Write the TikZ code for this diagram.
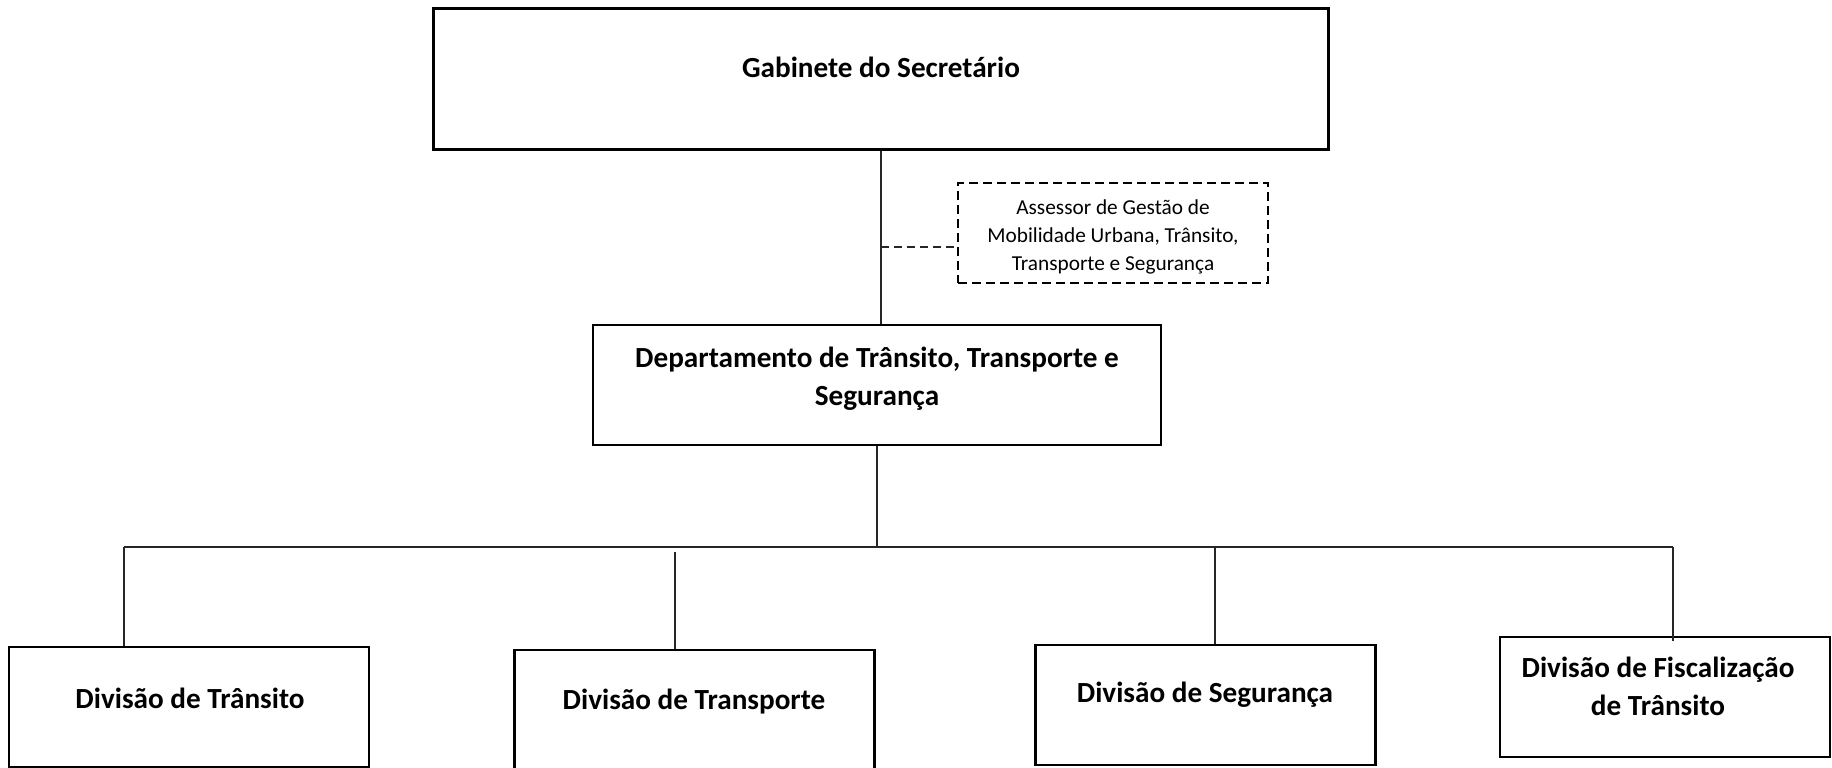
\documentclass[tikz,border=0pt]{standalone}
\usepackage{fontspec}
\setmainfont{Carlito}
\usepackage{tikz}
\usetikzlibrary{positioning,calc}

\begin{document}
\begin{tikzpicture}[x=1pt, y=-1pt,
  unitbox/.style={rectangle, draw=black, line width=2.4pt, inner sep=0pt},
  advbox/.style={rectangle, draw=black, line width=2.6pt, dash pattern=on 9pt off 5pt, inner sep=0pt},
  unitname/.style={font=\bfseries\fontsize{29.2}{38}\selectfont, align=center, inner sep=0pt},
  advname/.style={font=\fontsize{21.3}{28}\selectfont, align=center, inner sep=0pt},
  link/.style={draw=black!85, line width=1.3pt}]
\useasboundingbox (0,0) rectangle (1832,768);

% gabinete e assessoria
\node (gab) [unitbox, minimum width=895pt, minimum height=141pt] at (881,79) {};
\node (gabname) [unitname] at (881,67) {Gabinete do Secretário};

\node (ass) [advbox, minimum width=310pt, minimum height=100pt] at (1113,233) {};
\node (assname) [advname] at (1113,237) {Assessor de Gestão de\\Mobilidade Urbana, Trânsito,\\Transporte e Segurança};

% departamento
\node (dep) [unitbox, minimum width=568pt, minimum height=120pt] at (877,385) {};
\node (depname) [unitname] at (877,379) {Departamento de Trânsito, Transporte e\\Segurança};

% divisoes
\node (dtra) [unitbox, minimum width=360pt, minimum height=120pt] at (189,707) {};
\node (dtraname) [unitname] at (190,698) {Divisão de Trânsito};
\node (dtsp) [unitbox, minimum width=360pt, minimum height=120pt] at (694.5,710) {};
\node (dtspname) [unitname] at (694,702) {Divisão de Transporte};
\node (dseg) [unitbox, minimum width=340pt, minimum height=120pt] at (1205.5,705) {};
\node (dsegname) [unitname] at (1205,695) {Divisão de Segurança};
\node (dfis) [unitbox, minimum width=330pt, minimum height=120pt] at (1665,697) {};
\node (dfisname) [unitname] at (1658,686) {Divisão de Fiscalização\\de Trânsito};

% ligacoes
\coordinate (assin) at ([yshift=-14pt]ass.west);
\coordinate (busl) at (124,547);
\coordinate (busr) at (1673,547);
\coordinate (d2) at (675,552);
\coordinate (d3) at (1215,547);

\draw [link] (gab.south) -- (gab.south |- dep.north);
\draw [link, line width=2.2pt, dash pattern=on 8pt off 5pt] (gab.south |- assin) -- (assin);
\draw [link] (dep.south) -- (dep.south |- busl);
\draw [link] (busl) -- (busr);
\draw [link] (busl) -- (busl |- dtra.north);
\draw [link] (d2) -- (d2 |- dtsp.north);
\draw [link] (d3) -- (d3 |- dseg.north);
\draw [link] (busr) -- ($(busr |- dfis.north)+(0,5)$);
\end{tikzpicture}
\end{document}
